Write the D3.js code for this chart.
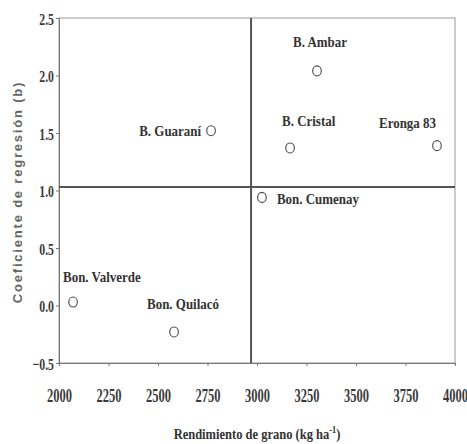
<!DOCTYPE html>
<html><head><meta charset="utf-8">
<script src="https://cdn.jsdelivr.net/npm/d3@7"></script>
<style>body{margin:0;background:#fff}svg{display:block}</style>
</head><body>
<script>
const names = ["B. Guaraní","B. Ambar","B. Cristal","Eronga 83","Bon. Cumenay","Bon. Valverde","Bon. Quilacó"];
const yieldVals = [2768, 3303, 3167, 3909, 3025, 2071, 2581];
const bVals = [1.52, 2.04, 1.37, 1.39, 0.94, 0.03, -0.23];
const xTicks = [2000,2250,2500,2750,3000,3250,3500,3750,4000];
const yTicks = [-0.5,0.0,0.5,1.0,1.5,2.0,2.5];
const meanYield = 2970;
const meanB = 1.03;
// label placement: [dx, dy, anchor]
const labelPos = [[-10,5,"end"],[3,-24,"middle"],[-8,-22,"start"],[-1,-18,"end"],[15,7,"start"],[-10,-20,"start"],[-27,-23,"start"]];

const SERIF='"Liberation Serif","DejaVu Serif Condensed","DejaVu Serif",serif';
const W=467,H=444;
const svg=d3.select("body").append("svg").attr("width",W).attr("height",H);
const x=d3.scaleLinear().domain([2000,4000]).range([59,455]);
const y=d3.scaleLinear().domain([-0.5,2.5]).range([363,18]);

// scale factor so that a sample string reaches a target width
function fitScale(sample, size, target){
  const t=svg.append("text").attr("font-family",SERIF).attr("font-weight","bold").attr("font-size",size).text(sample);
  const w=t.node().getComputedTextLength(); t.remove();
  return target/w;
}
const sTick=fitScale("2000","18px",25);
const sLab=fitScale("B. Ambar","15px",54);
const sTitle=fitScale("Rendimiento de grano (kg ha)","15px",160);

// frame
svg.append("rect").attr("x",59).attr("y",18).attr("width",396).attr("height",345)
  .attr("fill","none").attr("stroke","#999").attr("stroke-width",1);

const xa=svg.append("g").attr("transform","translate(0,363)")
  .call(d3.axisBottom(x).tickValues(xTicks).tickSize(3).tickPadding(0).tickFormat(d3.format("d")));
const ya=svg.append("g").attr("transform","translate(59,0)")
  .call(d3.axisLeft(y).tickValues(yTicks).tickSize(3).tickPadding(0).tickFormat(d3.format(".1f")));
[xa,ya].forEach(a=>{
  a.attr("font-family",null).attr("font-size",null);
  a.select(".domain").attr("stroke","#777");
  a.selectAll(".tick line").attr("stroke","#777");
});
xa.selectAll(".tick text").attr("y",0).attr("dy",null)
  .attr("transform",`translate(0,39) scale(${sTick},1)`)
  .attr("font-family",SERIF).attr("font-weight","bold").attr("font-size","18px").attr("fill","#3a3a3a");
ya.selectAll(".tick text").attr("x",0).attr("dy",null)
  .attr("transform",`translate(-5,6) scale(${sTick},1)`)
  .attr("font-family",SERIF).attr("font-weight","bold").attr("font-size","17px").attr("fill","#3a3a3a");

// mean lines
svg.append("line").attr("x1",x(meanYield)).attr("x2",x(meanYield)).attr("y1",18).attr("y2",363)
  .attr("stroke","#555").attr("stroke-width",2);
svg.append("line").attr("x1",59).attr("x2",455).attr("y1",y(meanB)).attr("y2",y(meanB))
  .attr("stroke","#555").attr("stroke-width",2);

const g=svg.append("g");
names.forEach((n,i)=>{
  const cx=x(yieldVals[i]), cy=y(bVals[i]);
  g.append("ellipse").attr("cx",cx).attr("cy",cy).attr("rx",4.3).attr("ry",5)
    .attr("fill","none").attr("stroke","#444").attr("stroke-width",1.1);
  const p=labelPos[i];
  g.append("text").attr("transform",`translate(${cx+p[0]},${cy+p[1]}) scale(${sLab},1)`)
    .attr("text-anchor",p[2]).attr("font-family",SERIF).attr("font-weight","bold")
    .attr("fill","#333").attr("font-size","15px").text(n);
});

// axis titles
const xt=svg.append("text").attr("transform",`translate(257,439) scale(${sTitle},1)`).attr("text-anchor","middle")
  .attr("font-family",SERIF).attr("font-weight","bold").attr("fill","#333").attr("font-size","15px");
xt.append("tspan").text("Rendimiento de grano (kg ha");
xt.append("tspan").attr("dy",-6).attr("font-size","10px").text("-1");
xt.append("tspan").attr("dy",6).text(")");

svg.append("text").attr("transform","translate(22,192) rotate(-90)").attr("text-anchor","middle")
  .attr("font-family",'"Liberation Sans",Arial,sans-serif').attr("font-weight","bold")
  .attr("fill","#666").attr("font-size","13px").attr("letter-spacing","1.8px")
  .text("Coeficiente de regresión (b)");
</script>
</body></html>
